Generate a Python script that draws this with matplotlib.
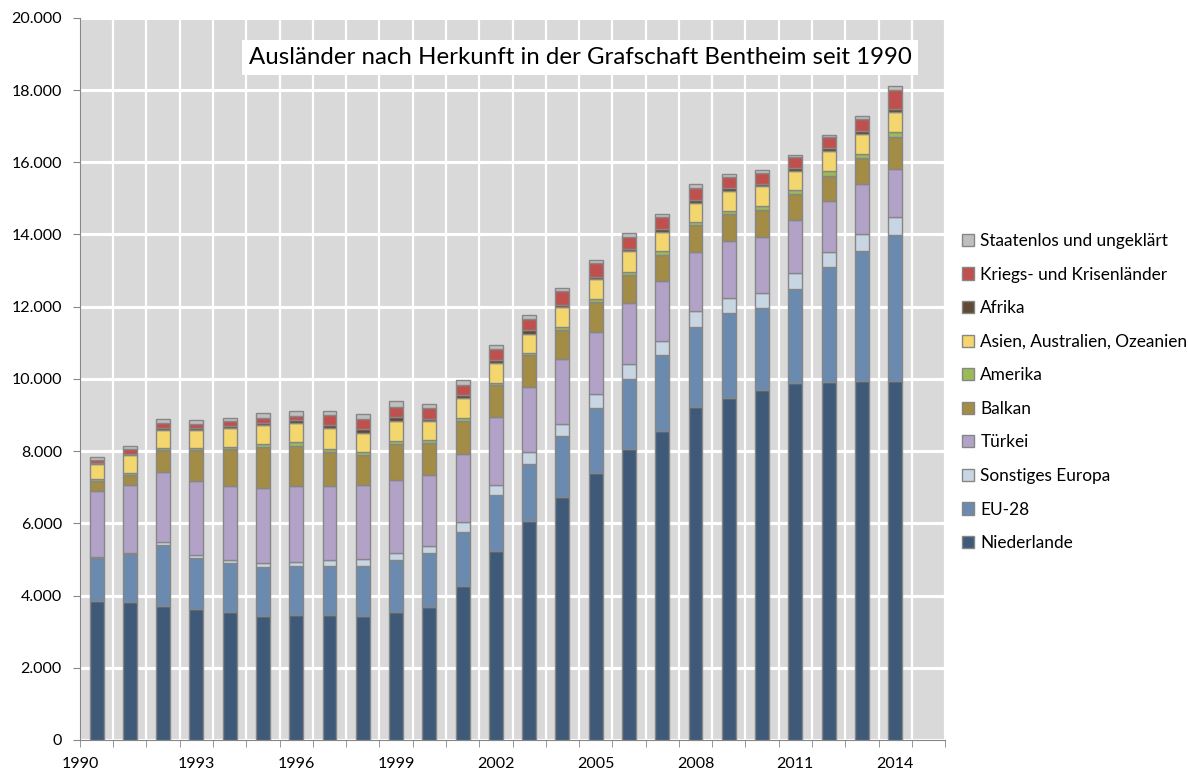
import numpy as np
import matplotlib
matplotlib.use("Agg")
import matplotlib.pyplot as plt
from matplotlib.ticker import FuncFormatter
import matplotlib.transforms as mtransforms

plt.rcParams['font.family'] = ['Lato', 'DejaVu Sans']

years = list(range(1990, 2015))
slots = 26  # one empty slot after 2014

niederlande = [3860, 3830, 3720, 3640, 3540, 3430, 3460, 3460, 3440, 3540, 3680, 4250, 5220,
               6050, 6730, 7390, 8060, 8570, 9230, 9460, 9680, 9880, 9900, 9950, 9950]
eu28 = [1170, 1320, 1680, 1390, 1370, 1370, 1360, 1360, 1380, 1430, 1500, 1500, 1550,
        1600, 1680, 1790, 1940, 2090, 2220, 2360, 2280, 2620, 3210, 3600, 4040]
sonst_europa = [50, 40, 70, 90, 80, 90, 120, 170, 190, 210, 200, 280, 300,
                320, 350, 390, 420, 390, 420, 410, 430, 430, 400, 470, 490]
tuerkei = [1820, 1870, 1940, 2040, 2050, 2080, 2100, 2050, 2040, 2030, 1970, 1900, 1880,
           1810, 1780, 1740, 1690, 1670, 1640, 1590, 1550, 1460, 1430, 1380, 1340]
balkan = [270, 280, 620, 870, 1010, 1140, 1100, 930, 830, 1000, 880, 910, 870,
          870, 820, 810, 770, 710, 740, 740, 740, 730, 690, 710, 870]
amerika = [50, 50, 60, 50, 60, 80, 100, 80, 90, 80, 90, 80, 70,
           70, 70, 100, 90, 100, 90, 100, 120, 120, 130, 120, 140]
asien = [420, 500, 500, 510, 540, 540, 530, 580, 530, 550, 510, 550, 540,
         530, 560, 540, 560, 550, 540, 550, 530, 520, 540, 560, 550]
afrika = [20, 30, 40, 40, 50, 60, 80, 100, 100, 110, 70, 80, 90,
          90, 60, 70, 70, 70, 80, 70, 70, 90, 90, 80, 100]
krieg = [80, 130, 140, 110, 120, 140, 130, 270, 300, 270, 280, 290, 310,
         330, 370, 370, 340, 330, 320, 320, 300, 290, 300, 330, 530]
staatenlos = [90, 100, 120, 120, 110, 120, 120, 110, 130, 160, 120, 140, 120,
              110, 110, 100, 110, 90, 110, 80, 90, 60, 70, 90, 90]

series = [
    ("Niederlande", niederlande, "#3f5a78"),
    ("EU-28", eu28, "#6a8ab0"),
    ("Sonstiges Europa", sonst_europa, "#c8d6e4"),
    ("Türkei", tuerkei, "#b3a2c8"),
    ("Balkan", balkan, "#a38c46"),
    ("Amerika", amerika, "#9bbb59"),
    ("Asien, Australien, Ozeanien", asien, "#f4d66e"),
    ("Afrika", afrika, "#604a35"),
    ("Kriegs- und Krisenländer", krieg, "#c0504d"),
    ("Staatenlos und ungeklärt", staatenlos, "#bfbfbf"),
]

fig = plt.figure(figsize=(11.88, 7.74), dpi=100)
ax = fig.add_axes([0.0673, 0.044, 0.7282, 0.933])
ax.set_facecolor("#d9d9d9")

x = np.arange(len(years))
bottom = np.zeros(len(years))
handles = []
for name, vals, col in series:
    b = ax.bar(x, vals, 0.42, bottom=bottom, color=col, edgecolor="#868686",
               linewidth=1, label=name, zorder=3)
    handles.append(b)
    bottom += np.array(vals)

ax.set_xlim(-0.5, slots - 0.5)
ax.set_ylim(0, 20000)
ax.set_yticks(np.arange(0, 20001, 2000))
ax.yaxis.set_major_formatter(FuncFormatter(lambda v, p: f"{int(v):,}".replace(",", ".")))

ax.set_xticks(x[::3])
ax.set_xticklabels([str(y) for y in years[::3]])
ax.set_xticks(np.arange(-0.5, slots, 1), minor=True)
ax.tick_params(axis="x", which="major", length=0, pad=12, labelsize=11.5)
ax.tick_params(axis="x", which="minor", length=5, color="#868686", direction="out")
ax.tick_params(axis="y", length=5, color="#868686", labelsize=11.5, pad=8)

# first label sits further left in the original
lab0 = ax.get_xticklabels()[0]
lab0.set_transform(lab0.get_transform() + mtransforms.ScaledTranslation(-0.16, 0, fig.dpi_scale_trans))

ax.grid(axis="y", color="white", linewidth=2.2, zorder=1)
ax.grid(axis="x", which="minor", color="white", linewidth=1.6, zorder=1)
ax.set_axisbelow(True)
for s in ["top", "right"]:
    ax.spines[s].set_visible(False)
for s in ["left", "bottom"]:
    ax.spines[s].set_color("#868686")

ax.text(0.578, 0.945, "Ausländer nach Herkunft in der Grafschaft Bentheim seit 1990",
        transform=ax.transAxes, ha="center", va="center", fontsize=17.3, zorder=5,
        bbox=dict(facecolor="white", edgecolor="none", pad=5))

leg = fig.legend(handles[::-1], [s[0] for s in series][::-1], loc="center left",
                 bbox_to_anchor=(0.797, 0.4935), frameon=False, fontsize=12.4,
                 handlelength=0.7, handleheight=0.7, handletextpad=0.35,
                 labelspacing=1.02)

fig.savefig("out.png", dpi=100)
